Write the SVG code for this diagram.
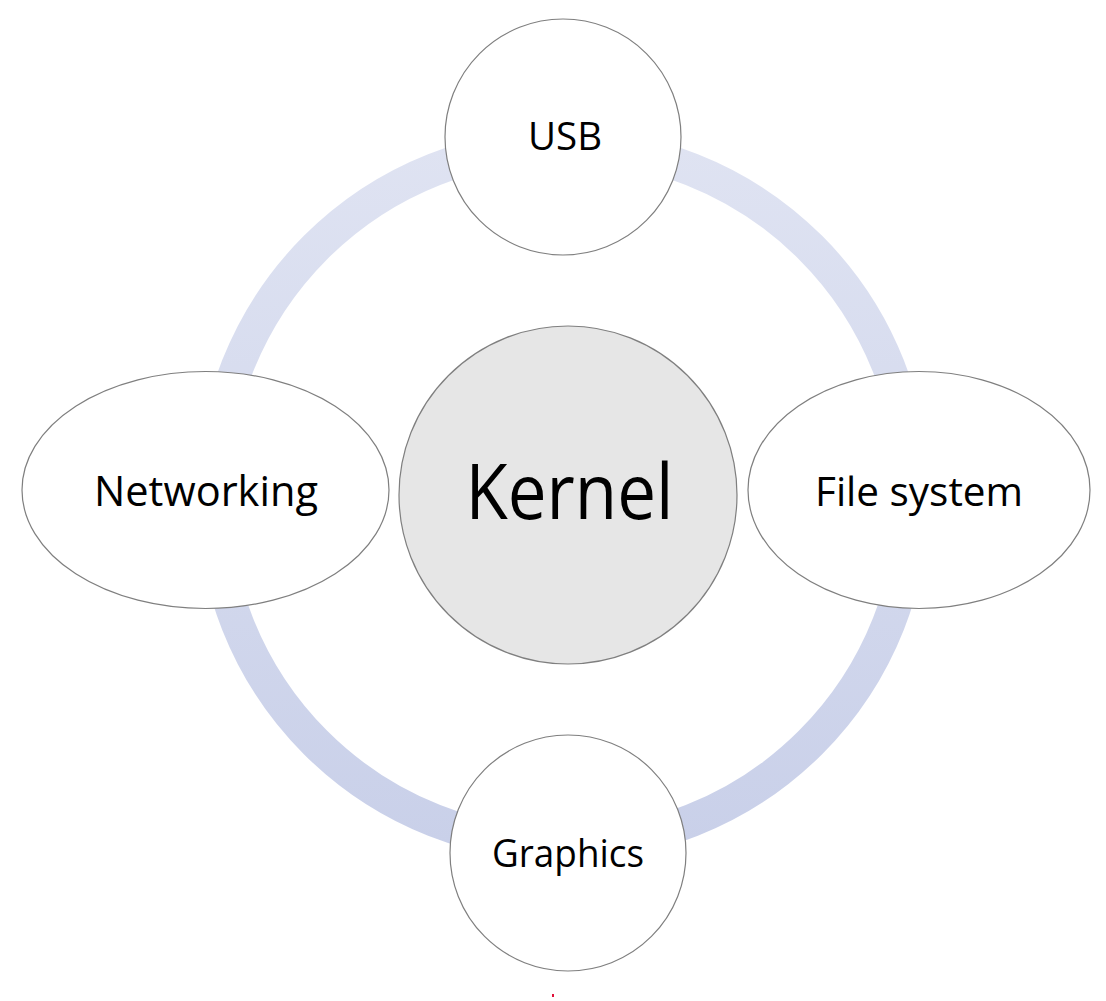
<svg xmlns="http://www.w3.org/2000/svg" width="1106" height="1001" viewBox="0 0 1106 1001">
<style>
.node{fill:#ffffff;stroke:#7f7f7f;stroke-width:1.2}
.core{fill:#e6e6e6;stroke:#7f7f7f;stroke-width:1.2}
.lbl{font-family:"Open Sans","Liberation Sans",sans-serif;fill:#000000;text-anchor:middle}
</style>
<defs>
<linearGradient id="ringGrad" gradientUnits="userSpaceOnUse" x1="0" y1="145" x2="0" y2="845">
<stop offset="0" stop-color="#dfe3f2"/>
<stop offset="1" stop-color="#c9d0e9"/>
</linearGradient>
</defs>
<g id="connectors">
<circle cx="563" cy="495" r="350" fill="none" stroke="url(#ringGrad)" stroke-width="33"/>
</g>
<g id="kernel">
<circle class="core" cx="568" cy="495" r="169"/>
<text class="lbl" x="569.5" y="519" font-size="77" textLength="208" lengthAdjust="spacingAndGlyphs">Kernel</text>
</g>
<g id="usb">
<circle class="node" cx="563" cy="137" r="118"/>
<text class="lbl" x="565" y="150" font-size="39" textLength="74" lengthAdjust="spacingAndGlyphs">USB</text>
</g>
<g id="networking">
<ellipse class="node" cx="205.5" cy="490" rx="183.5" ry="118.5"/>
<text class="lbl" x="206" y="506" font-size="42" textLength="224" lengthAdjust="spacingAndGlyphs">Networking</text>
</g>
<g id="filesystem">
<ellipse class="node" cx="919" cy="490" rx="171" ry="118.5"/>
<text class="lbl" x="919" y="506" font-size="41" textLength="208" lengthAdjust="spacingAndGlyphs">File system</text>
</g>
<g id="graphics">
<circle class="node" cx="568" cy="853" r="118"/>
<text class="lbl" x="568" y="867" font-size="38" textLength="152" lengthAdjust="spacingAndGlyphs">Graphics</text>
</g>
<rect x="552" y="994" width="2" height="3" fill="#e0103a"/>
</svg>
